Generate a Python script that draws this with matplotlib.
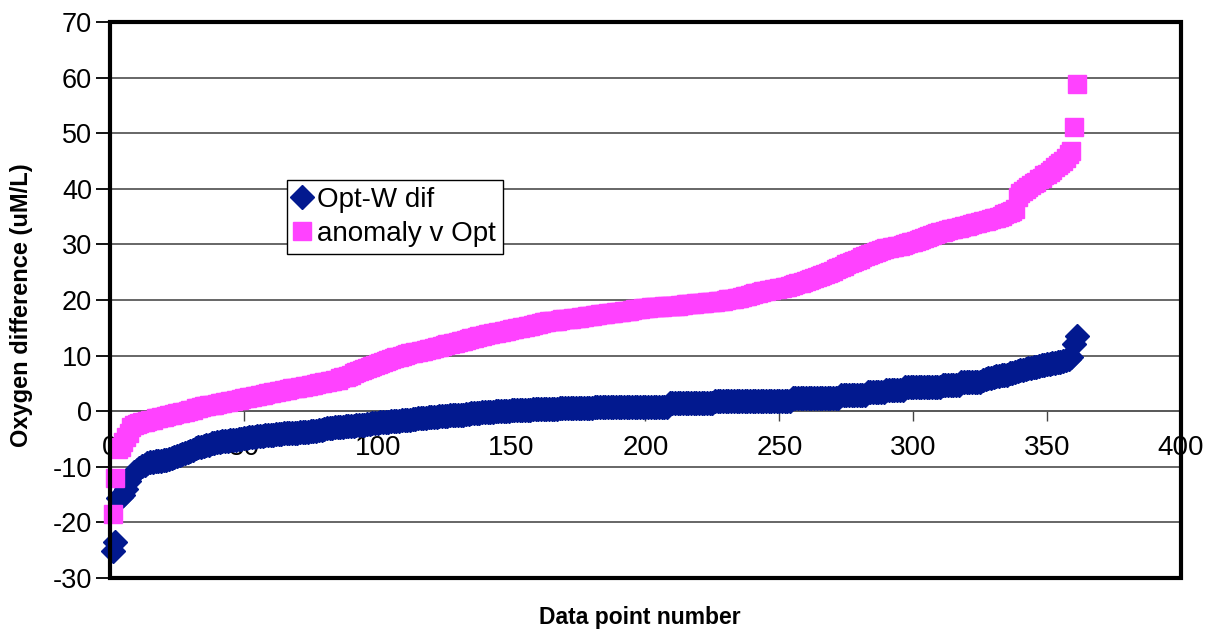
import matplotlib.pyplot as plt
from matplotlib.patches import Rectangle

plt.rcParams['font.family'] = ['Liberation Sans', 'DejaVu Sans']
plt.rcParams['axes.unicode_minus'] = False

# sorted differences, one value per data point
opt_w_dif = [
    -25.1, -23.6, -15.7, -15.4, -15.0, -14.0, -12.6, -11.7, -11.0, -10.5,
    -10.2, -9.9, -9.6, -9.4, -9.2, -9.1, -9.0, -8.9, -8.9, -8.8,
    -8.7, -8.6, -8.5, -8.3, -8.1, -7.9, -7.7, -7.5, -7.3, -7.1,
    -6.9, -6.7, -6.5, -6.4, -6.2, -6.1, -6.0, -5.8, -5.7, -5.6,
    -5.5, -5.4, -5.4, -5.3, -5.2, -5.1, -5.1, -5.0, -5.0, -4.9,
    -4.8, -4.7, -4.6, -4.6, -4.5, -4.4, -4.4, -4.3, -4.3, -4.2,
    -4.2, -4.1, -4.1, -4.1, -4.0, -4.0, -4.0, -3.9, -3.9, -3.9,
    -3.8, -3.8, -3.8, -3.7, -3.6, -3.5, -3.5, -3.4, -3.3, -3.2,
    -3.1, -3.1, -3.0, -2.9, -2.9, -2.8, -2.8, -2.7, -2.7, -2.6,
    -2.6, -2.5, -2.5, -2.4, -2.4, -2.3, -2.3, -2.2, -2.1, -2.1,
    -2.0, -2.0, -1.9, -1.9, -1.8, -1.8, -1.7, -1.7, -1.6, -1.6,
    -1.5, -1.5, -1.4, -1.4, -1.3, -1.3, -1.2, -1.2, -1.1, -1.1,
    -1.0, -1.0, -0.9, -0.9, -0.8, -0.8, -0.7, -0.7, -0.7, -0.6,
    -0.6, -0.6, -0.5, -0.5, -0.4, -0.4, -0.3, -0.3, -0.2, -0.2,
    -0.1, -0.1, -0.1, 0.0, 0.0, 0.0, 0.1, 0.1, 0.1, 0.2,
    0.2, 0.2, 0.2, 0.3, 0.3, 0.3, 0.3, 0.4, 0.4, 0.4,
    0.4, 0.4, 0.4, 0.4, 0.4, 0.4, 0.4, 0.5, 0.5, 0.5,
    0.5, 0.5, 0.5, 0.5, 0.5, 0.5, 0.5, 0.5, 0.5, 0.5,
    0.8, 0.8, 0.8, 0.8, 0.8, 0.8, 0.8, 0.8, 0.8, 0.8,
    0.8, 0.8, 0.8, 0.8, 0.8, 0.8, 0.8, 0.8, 0.8, 0.8,
    0.8, 0.8, 0.8, 0.8, 0.8, 0.8, 0.8, 0.8, 1.4, 1.4,
    1.4, 1.4, 1.4, 1.4, 1.4, 1.4, 1.4, 1.4, 1.4, 1.4,
    1.4, 1.4, 1.4, 1.4, 1.4, 1.9, 1.9, 1.9, 1.9, 1.9,
    1.9, 1.9, 1.9, 1.9, 1.9, 1.9, 1.9, 1.9, 1.9, 1.9,
    1.9, 1.9, 1.9, 1.9, 1.9, 1.9, 1.9, 1.9, 1.9, 1.9,
    1.9, 1.9, 1.9, 1.9, 2.3, 2.3, 2.3, 2.3, 2.3, 2.3,
    2.3, 2.3, 2.3, 2.3, 2.3, 2.3, 2.3, 2.3, 2.3, 2.3,
    2.3, 2.3, 2.9, 2.9, 2.9, 2.9, 2.9, 2.9, 2.9, 2.9,
    2.9, 2.9, 3.4, 3.4, 3.4, 3.4, 3.4, 3.4, 3.4, 3.8,
    3.8, 3.8, 3.8, 3.8, 3.8, 3.8, 4.4, 4.4, 4.4, 4.4,
    4.4, 4.4, 4.4, 4.4, 4.4, 4.4, 4.4, 4.4, 4.4, 4.4,
    4.8, 4.8, 4.8, 4.8, 4.8, 4.8, 4.8, 5.3, 5.3, 5.3,
    5.3, 5.3, 5.3, 5.3, 5.3, 5.6, 5.8, 5.9, 6.0, 6.1,
    6.3, 6.4, 6.5, 6.6, 6.6, 6.8, 6.9, 7.1, 7.2, 7.4,
    7.5, 7.6, 7.7, 7.8, 7.9, 8.0, 8.2, 8.3, 8.4, 8.5,
    8.5, 8.6, 8.7, 8.8, 8.9, 9.0, 9.2, 9.4, 9.7, 12.1,
    13.6,
]

anomaly_v_opt = [
    -18.4, -12.1, -6.8, -6.4, -5.6, -4.6, -3.9, -2.8, -2.5, -2.3,
    -2.2, -2.0, -1.9, -1.8, -1.6, -1.5, -1.3, -1.2, -1.1, -1.0,
    -0.8, -0.7, -0.6, -0.5, -0.4, -0.3, -0.2, -0.1, 0.1, 0.2,
    0.3, 0.5, 0.6, 0.8, 0.9, 1.0, 1.1, 1.1, 1.2, 1.3,
    1.4, 1.5, 1.6, 1.7, 1.8, 1.9, 2.0, 2.1, 2.2, 2.3,
    2.4, 2.5, 2.6, 2.7, 2.8, 2.9, 3.0, 3.1, 3.2, 3.3,
    3.4, 3.5, 3.6, 3.7, 3.8, 3.9, 4.0, 4.1, 4.1, 4.2,
    4.3, 4.4, 4.5, 4.6, 4.7, 4.8, 4.9, 5.0, 5.1, 5.2,
    5.3, 5.4, 5.5, 5.6, 5.7, 5.9, 6.1, 6.2, 6.4, 6.6,
    6.8, 7.0, 7.2, 7.4, 7.6, 7.8, 8.0, 8.2, 8.4, 8.5,
    8.7, 8.9, 9.1, 9.2, 9.4, 9.5, 9.7, 9.8, 10.0, 10.1,
    10.2, 10.4, 10.5, 10.6, 10.7, 10.8, 10.9, 11.0, 11.1, 11.2,
    11.4, 11.5, 11.6, 11.8, 11.9, 12.0, 12.1, 12.2, 12.3, 12.5,
    12.6, 12.7, 12.8, 13.0, 13.1, 13.2, 13.4, 13.5, 13.6, 13.7,
    13.8, 13.9, 14.0, 14.1, 14.2, 14.3, 14.4, 14.5, 14.6, 14.7,
    14.8, 14.9, 15.0, 15.1, 15.2, 15.3, 15.4, 15.5, 15.6, 15.7,
    15.8, 16.0, 16.1, 16.2, 16.2, 16.3, 16.3, 16.4, 16.5, 16.5,
    16.6, 16.6, 16.7, 16.8, 16.8, 16.9, 17.0, 17.1, 17.1, 17.2,
    17.3, 17.3, 17.4, 17.5, 17.5, 17.6, 17.7, 17.7, 17.8, 17.9,
    17.9, 18.0, 18.1, 18.1, 18.2, 18.3, 18.3, 18.4, 18.5, 18.5,
    18.6, 18.7, 18.7, 18.7, 18.8, 18.8, 18.9, 18.9, 18.9, 19.0,
    19.0, 19.0, 19.1, 19.1, 19.2, 19.2, 19.3, 19.3, 19.4, 19.4,
    19.5, 19.5, 19.6, 19.6, 19.7, 19.7, 19.8, 19.9, 19.9, 20.0,
    20.1, 20.1, 20.2, 20.3, 20.4, 20.5, 20.7, 20.8, 20.9, 21.1,
    21.2, 21.3, 21.5, 21.6, 21.7, 21.8, 21.8, 21.9, 22.0, 22.1,
    22.2, 22.3, 22.4, 22.5, 22.7, 22.8, 23.0, 23.1, 23.3, 23.5,
    23.6, 23.8, 24.0, 24.1, 24.3, 24.5, 24.7, 24.9, 25.1, 25.3,
    25.5, 25.7, 25.9, 26.1, 26.4, 26.6, 26.8, 27.0, 27.2, 27.4,
    27.7, 27.9, 28.1, 28.3, 28.5, 28.7, 28.9, 29.0, 29.2, 29.3,
    29.4, 29.5, 29.6, 29.7, 29.8, 29.9, 30.1, 30.2, 30.4, 30.5,
    30.7, 30.8, 31.0, 31.2, 31.4, 31.6, 31.7, 31.9, 32.1, 32.2,
    32.3, 32.4, 32.6, 32.7, 32.8, 32.9, 33.0, 33.1, 33.3, 33.4,
    33.5, 33.6, 33.8, 33.9, 34.1, 34.2, 34.3, 34.4, 34.6, 34.7,
    34.8, 35.0, 35.2, 35.4, 35.6, 35.8, 36.1, 36.3, 38.5, 39.2,
    39.6, 39.9, 40.3, 40.6, 41.0, 41.3, 41.7, 42.0, 42.4, 42.7,
    43.0, 43.4, 43.9, 44.3, 44.6, 45.0, 45.6, 46.2, 46.8, 51.1,
    58.9,
]

point_number = list(range(1, len(opt_w_dif) + 1))

x_ticks = [0, 50, 100, 150, 200, 250, 300, 350, 400]
y_ticks = [-30, -20, -10, 0, 10, 20, 30, 40, 50, 60, 70]

navy = '#02198F'
pink = '#FF42FF'

fig = plt.figure(figsize=(12.21, 6.33), dpi=100)
ax = fig.add_axes([0.0901, 0.0869, 0.8771, 0.8783])

ax.plot(point_number, opt_w_dif, linestyle='none', marker='D', markersize=12.5,
        color=navy, markeredgecolor=navy, label='Opt-W dif', clip_on=False, zorder=3)
ax.plot(point_number, anomaly_v_opt, linestyle='none', marker='s', markersize=12.5,
        color=pink, markeredgecolor=pink, label='anomaly v Opt', clip_on=False, zorder=3)

ax.set_xlim(0, 400)
ax.set_ylim(-30, 70)
ax.set_xticks(x_ticks)
ax.set_yticks(y_ticks)

ax.yaxis.grid(True, color='#5a5a5a', linewidth=1.3)
ax.set_axisbelow(True)

# x axis crosses at y = 0
for side in ['top', 'right', 'left']:
    ax.spines[side].set_visible(False)
ax.spines['bottom'].set_position(('data', 0))
ax.spines['bottom'].set_color('#5a5a5a')
ax.spines['bottom'].set_linewidth(1.3)
ax.add_patch(Rectangle((0, 0), 1, 1, transform=ax.transAxes, fill=False,
                       edgecolor='black', linewidth=3, clip_on=False, zorder=4))

ax.tick_params(axis='x', direction='out', length=7, width=1, color='#444444',
               labelsize=20, pad=10)
ax.tick_params(axis='y', direction='out', length=10, width=1.3, color='black',
               labelsize=19.5, pad=3)

ax.set_ylabel('Oxygen difference (uM/L)', fontsize=17, fontweight='bold')
ax.yaxis.set_label_coords(-0.072, 0.49)
ax.set_xlabel('Data point number', fontsize=16.5, fontweight='bold')
ax.xaxis.set_label_coords(0.495, -0.05)

leg = ax.legend(loc='upper left', bbox_to_anchor=(0.165, 0.716), borderaxespad=0,
                fontsize=20, frameon=True, fancybox=False, framealpha=1,
                edgecolor='black', handlelength=0.6, handletextpad=0.25,
                borderpad=0.25, labelspacing=0.3)
leg.get_frame().set_linewidth(1)
leg.set_zorder(5)

fig.savefig('out.png', dpi=100)
